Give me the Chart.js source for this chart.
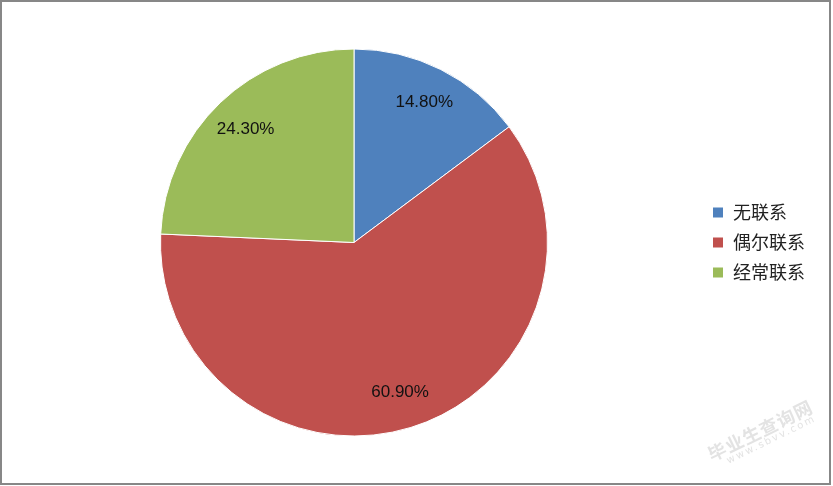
<!DOCTYPE html>
<html>
<head>
<meta charset="utf-8">
<script src="https://cdn.jsdelivr.net/npm/chart.js@4/dist/chart.umd.min.js"></script>
<style>
  html, body { margin: 0; padding: 0; background: #fff; }
  #wrap { position: relative; width: 833px; height: 486px; }
  #frame { position: absolute; left: 0; top: 0; width: 831px; height: 485px; box-sizing: border-box;
           border: 2px solid #878787; pointer-events: none; }
  #mark { position: absolute; left: 705px; top: 420px; transform: rotate(-26deg); color: rgba(200,200,200,0.5);
          font-family: "Noto Sans CJK SC", sans-serif; pointer-events: none; line-height: 1; }
  #mark .big { font-size: 18px; font-weight: bold; letter-spacing: 1px; }
  #mark .small { font-size: 10px; font-family: "DejaVu Sans", sans-serif; letter-spacing: 2px; margin-left: 14px; }
</style>
</head>
<body>
<div id="wrap">
  <canvas id="pie" width="833" height="486"></canvas>
  <div id="frame"></div>
  <div id="mark"><div class="big">毕业生查询网</div><div class="small">www.sbvv.com</div></div>
</div>
<script>
// 数据
const categories = ['无联系', '偶尔联系', '经常联系'];
const shares = [14.8, 60.9, 24.3];
const colors = ['#4F81BD', '#C0504D', '#9BBB59'];

// 扇区内的百分比标签
const sliceLabels = {
  id: 'sliceLabels',
  afterDatasetsDraw(chart) {
    const ctx = chart.ctx;
    const meta = chart.getDatasetMeta(0);
    ctx.save();
    ctx.font = '17px "Liberation Sans", Arial, sans-serif';
    ctx.fillStyle = '#111';
    ctx.textAlign = 'center';
    ctx.textBaseline = 'middle';
    meta.data.forEach((arc, i) => {
      const mid = (arc.startAngle + arc.endAngle) / 2;
      const r = arc.outerRadius * 0.81;
      const x = arc.x + Math.cos(mid) * r;
      const y = arc.y + Math.sin(mid) * r;
      ctx.fillText(shares[i].toFixed(2) + '%', x, y);
    });
    ctx.restore();
  }
};

// 右侧图例
const sideLegend = {
  id: 'sideLegend',
  afterDraw(chart) {
    const ctx = chart.ctx;
    const area = chart.chartArea;
    const x0 = area.right + 165;
    const yMid = (area.top + area.bottom) / 2;
    const step = 30;
    ctx.save();
    ctx.font = '18px "Noto Sans CJK SC", sans-serif';
    ctx.textBaseline = 'middle';
    categories.forEach((name, i) => {
      const y = yMid + (i - 1) * step;
      ctx.fillStyle = colors[i];
      ctx.fillRect(x0, y - 5, 10, 10);
      ctx.fillStyle = '#222';
      ctx.fillText(name, x0 + 20, y);
    });
    ctx.restore();
  }
};

new Chart(document.getElementById('pie').getContext('2d'), {
  type: 'pie',
  data: {
    labels: categories,
    datasets: [{
      data: shares,
      backgroundColor: colors,
      borderColor: '#ffffff',
      borderWidth: 1
    }]
  },
  options: {
    responsive: false,
    animation: false,
    layout: { padding: { left: 160, right: 285, top: 48, bottom: 49 } },
    plugins: {
      legend: { display: false },
      tooltip: { enabled: false }
    }
  },
  plugins: [sliceLabels, sideLegend]
});
</script>
</body>
</html>
